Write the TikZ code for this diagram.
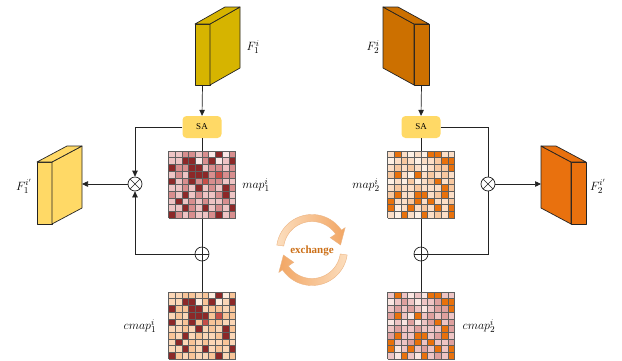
\documentclass[tikz,border=0pt]{standalone}
\usepackage{fontspec}
\setmainfont{Liberation Serif}
\usetikzlibrary{arrows.meta,calc}

% block colours
\definecolor{goldA}{RGB}{214,180,0}
\definecolor{amberB}{RGB}{204,112,0}
\definecolor{paleY}{RGB}{255,217,102}
\definecolor{orangeC}{RGB}{233,113,14}
\definecolor{saFill}{RGB}{255,217,102}
\definecolor{edge}{RGB}{35,35,35}
\definecolor{xorange}{RGB}{204,112,24}
\definecolor{exLight}{RGB}{252,222,190}
\definecolor{exDeep}{RGB}{242,166,100}
\definecolor{exEdge}{RGB}{236,180,130}
\definecolor{gridGray}{RGB}{95,95,95}

% palettes of the attention maps (0..2 light shades, 3 dominant, 4 accent)
\definecolor{mA0}{RGB}{250,232,230}
\definecolor{mA1}{RGB}{238,196,196}
\definecolor{mA2}{RGB}{216,142,142}
\definecolor{mA3}{RGB}{140,40,40}
\definecolor{mA4}{RGB}{198,78,72}
\definecolor{cA0}{RGB}{253,236,222}
\definecolor{cA1}{RGB}{251,214,182}
\definecolor{cA2}{RGB}{248,196,152}
\definecolor{cA3}{RGB}{140,40,40}
\definecolor{cA4}{RGB}{198,78,72}
\definecolor{mB0}{RGB}{254,240,228}
\definecolor{mB1}{RGB}{252,222,198}
\definecolor{mB2}{RGB}{248,200,160}
\definecolor{mB3}{RGB}{232,113,12}
\definecolor{cB0}{RGB}{250,230,226}
\definecolor{cB1}{RGB}{238,196,196}
\definecolor{cB2}{RGB}{222,160,158}
\definecolor{cB3}{RGB}{232,113,12}

\def\patA{{1,1,2,2,1,2,0,3,0,2},{1,1,3,3,0,2,3,0,1,3},{3,2,2,3,3,1,2,2,1,2},{1,2,1,3,3,3,2,4,2,2},{3,1,2,3,2,4,2,2,1,1},{1,1,2,1,3,1,2,1,3,2},{2,1,3,1,2,1,1,2,3,1},{1,3,1,2,1,2,1,1,2,1},{1,1,3,2,1,3,1,2,1,3},{3,2,1,2,1,1,2,3,1,2}}
\def\patB{{1,3,1,0,1,0,3,3,1,1},{0,1,2,1,0,1,1,2,3,3},{1,2,1,2,1,0,1,2,2,3},{2,3,1,0,3,1,2,1,2,1},{0,1,0,2,0,1,2,3,1,2},{1,2,1,1,2,1,1,1,3,2},{2,3,1,1,3,3,1,2,3,1},{3,1,1,2,3,1,3,1,1,2},{3,0,1,3,1,2,1,3,1,3},{1,0,3,1,0,3,1,2,1,3}}

% 10x10 coloured grid inside a named square node
\newcommand\cellgrid[3]{%
  \foreach \rowvals [count=\ri from 0] in #3 {%
    \foreach \v [count=\ci from 0] in \rowvals {%
      \fill[#2\v] ($(#1.north west)+(\ci*6.7,\ri*6.7)$) rectangle ++(6.7,6.7);%
    }%
  }%
  \foreach \k in {0,...,10} {%
    \draw[gridline] ($(#1.north west)+(\k*6.7,0)$) -- ++(0,67);%
    \draw[gridline] ($(#1.north west)+(0,\k*6.7)$) -- ++(67,0);%
  }%
}

\tikzset{
  face/.style={draw=edge, line width=0.7pt, line join=round},
  frontface/.style={face, inner sep=0pt, outer sep=0pt, anchor=north west, minimum width=15pt},
  sabox/.style={fill=saFill, rounded corners=4pt, minimum width=39pt, minimum height=22pt,
    inner sep=0pt, font=\fontsize{9}{10}\selectfont},
  wire/.style={draw=edge, line width=0.7pt},
  arr/.style={wire, -{Triangle[length=6pt,width=5.5pt]}},
  opnode/.style={circle, draw=edge, line width=0.7pt, minimum size=14pt, inner sep=0pt, fill=white},
  otimesnode/.style={opnode, path picture={\draw[edge,line width=0.6pt]
    (path picture bounding box.north west)--(path picture bounding box.south east)
    (path picture bounding box.north east)--(path picture bounding box.south west);}},
  oplusnode/.style={opnode, path picture={\draw[edge,line width=0.6pt]
    (path picture bounding box.north)--(path picture bounding box.south)
    (path picture bounding box.east)--(path picture bounding box.west);}},
  gridbox/.style={minimum width=67pt, minimum height=67pt, inner sep=0pt, outer sep=0pt},
  gridline/.style={draw=gridGray, line width=0.5pt},
  lab/.style={inner sep=0pt, font=\fontsize{13}{15}\selectfont},
  exarrow/.style={draw=exEdge, line width=0.4pt},
}

\begin{document}
\begin{tikzpicture}[x=1pt,y=-1pt]
\fill[white] (0,0) rectangle (622,360);
\useasboundingbox (0,0) rectangle (622,360);

% ---- feature blocks ----
% F_1^i (side face to the right)
\node[frontface, fill=goldA, minimum height=61pt] (F1) at (195,24) {};
\filldraw[face, fill=goldA] (F1.north east) -- ++(30,-17) -- ++(0,61) -- (F1.south east) -- cycle;
\filldraw[face, fill=goldA] (F1.north west) -- ++(30,-17) -- ++(15,0) -- (F1.north east) -- cycle;
% F_2^i (side face to the left)
\node[frontface, fill=amberB, minimum height=61pt] (F2) at (414,24) {};
\filldraw[face, fill=amberB] (F2.north west) -- ++(-31,-17) -- ++(0,61) -- (F2.south west) -- cycle;
\filldraw[face, fill=amberB] (F2.north west) -- ++(-31,-17) -- ++(15,0) -- (F2.north east) -- cycle;
% F_1^{i'}
\node[frontface, fill=paleY, minimum height=62pt] (F1p) at (37,162) {};
\filldraw[face, fill=paleY] (F1p.north east) -- ++(30,-16) -- ++(0,62) -- (F1p.south east) -- cycle;
\filldraw[face, fill=paleY] (F1p.north west) -- ++(30,-16) -- ++(15,0) -- (F1p.north east) -- cycle;
\coordinate (F1side) at ($(F1p.east)+(30,0)$);
% F_2^{i'}
\node[frontface, fill=orangeC, minimum height=62pt] (F2p) at (571,162) {};
\filldraw[face, fill=orangeC] (F2p.north west) -- ++(-30,-16) -- ++(0,62) -- (F2p.south west) -- cycle;
\filldraw[face, fill=orangeC] (F2p.north west) -- ++(-30,-16) -- ++(15,0) -- (F2p.north east) -- cycle;
\coordinate (F2side) at ($(F2p.west)+(-30,0)$);

% ---- SA modules, maps and operators ----
\node[sabox] (sa1) at (202,127) {SA};
\node[sabox] (sa2) at (421,127) {SA};
\node[gridbox] (map1) at (202,184.5) {};
\node[gridbox] (map2) at (421,184.5) {};
\node[gridbox] (cmap1) at (202,325.5) {};
\node[gridbox] (cmap2) at (421,325.5) {};
\node[otimesnode] (otL) at (135,184) {};
\node[oplusnode] (opL) at (202,254) {};
\node[otimesnode] (otR) at (488,184) {};
\node[oplusnode] (opR) at (421,254) {};

% ---- connectors ----
\draw[arr] (F1.south) -- (sa1.north);
\draw[wire] (sa1.south) -- (opL.north);
\draw[wire] (opL.south) -- (cmap1.north);
\draw[arr] (sa1.west) -| (otL.north);
\draw[arr] (opL.west) -| (otL.south);
\draw[arr] (otL.west) -- (otL.west -| F1side);

\draw[arr] (F2.south) -- (sa2.north);
\draw[wire] (sa2.south) -- (opR.north);
\draw[wire] (opR.south) -- (cmap2.north);
\draw[wire] (sa2.east) -| (otR.north);
\draw[wire] (opR.east) -| (otR.south);
\draw[arr] (otR.east) -- (otR.east -| F2side);

% ---- attention maps ----
\cellgrid{map1}{mA}{\patA}
\cellgrid{cmap1}{cA}{\patA}
\cellgrid{map2}{mB}{\patB}
\cellgrid{cmap2}{cB}{\patB}

% ---- labels ----
\node[lab] (lF1) at (253,47) {$F_1^i$};
\node[lab] (lF2) at (373,47) {$F_2^i$};
\node[lab] (lF1p) at (24,186) {$F_1^{i'}$};
\node[lab] (lF2p) at (598,186) {$F_2^{i'}$};
\node[lab] (lm1) at (256,185) {$map_1^i$};
\node[lab] (lm2) at (366,185) {$map_2^i$};
\node[lab] (lc1) at (140,326) {$cmap_1^i$};
\node[lab] (lc2) at (479,326) {$cmap_2^i$};

% ---- exchange cycle ----
\draw[exarrow, left color=exLight, right color=exDeep]
  plot[domain=188:326, samples=40] ({312+35.5*cos(\x)},{250+35.5*sin(\x)})
  -- ({312+40*cos(326)},{250+40*sin(326)})
  -- ({312+29*cos(350)},{250+29*sin(350)})
  -- ({312+22*cos(326)},{250+22*sin(326)})
  -- plot[domain=326:188, samples=40] ({312+28.5*cos(\x)},{250+28.5*sin(\x)})
  -- cycle;
\draw[exarrow, left color=exDeep, right color=exLight]
  plot[domain=8:146, samples=40] ({312+35.5*cos(\x)},{250+35.5*sin(\x)})
  -- ({312+40*cos(146)},{250+40*sin(146)})
  -- ({312+29*cos(170)},{250+29*sin(170)})
  -- ({312+22*cos(146)},{250+22*sin(146)})
  -- plot[domain=146:8, samples=40] ({312+28.5*cos(\x)},{250+28.5*sin(\x)})
  -- cycle;
\node[text=xorange, font=\bfseries\fontsize{11}{12}\selectfont] (ex) at (312,251) {exchange};
\end{tikzpicture}
\end{document}
